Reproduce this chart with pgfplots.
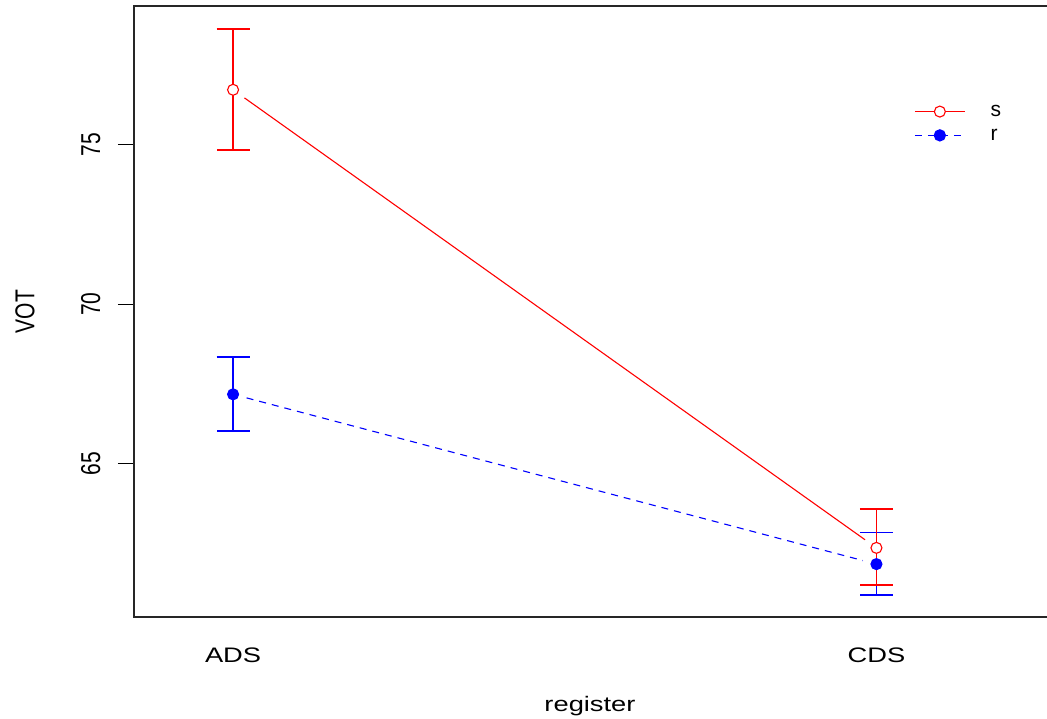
\documentclass[border=0pt]{standalone}
\usepackage{fontspec}
\setmainfont{Liberation Sans}
\usepackage{pgfplots}
\pgfplotsset{compat=1.18}
\begin{document}
\begin{tikzpicture}[font=\fontsize{21}{25}\selectfont]
\useasboundingbox (-134pt,-101pt) rectangle (913pt,617pt);
\begin{axis}[
  at={(0pt,0pt)}, anchor=south west,
  scale only axis, width=920pt, height=611pt,
  xmin=0.846, xmax=2.276, ymin=60.18, ymax=79.36,
  axis line style={line width=1.2pt, black!85},
  xtick={1,2}, xticklabels={ADS,CDS},
  ytick={65,70,75},
  tick align=outside,
  major tick length=16pt,
  x tick style={draw=none},
  y tick style={line width=1.2pt, black},
  ytick pos=left, xtick pos=bottom,
  /pgf/number format/assume math mode=true,
  yticklabel style={xshift=-13pt, rotate=90, yscale=1.3, anchor=south},
  xticklabel style={yshift=-11pt, xscale=1.3, anchor=north},
  xlabel={register}, ylabel={VOT},
  every axis x label/.style={at={(axis description cs:0.5,0)}, anchor=center, xshift=-4pt, yshift=-89pt, xscale=1.3},
  every axis y label/.style={at={(axis description cs:0,0.5)}, xshift=-109pt, rotate=90, yscale=1.3, anchor=center},
  legend reversed,
  legend style={draw=none, fill=none, at={(axis cs:0.846,79.36)}, anchor=north west, xshift=780pt, yshift=-97pt, inner xsep=0pt, inner ysep=0pt, row sep=7pt, font=\fontsize{21}{25}\selectfont,
    /tikz/every odd column/.append style={column sep=23pt}},
  legend cell align=left,
  legend image code/.code={\draw[mark repeat=2, mark phase=2, shorten <=0pt, shorten >=0pt, line width=1.3pt] plot coordinates {(0pt,0pt) (25pt,0pt) (50pt,0pt)};},
]
% r (blue)
\addplot[blue, line width=1.1pt, dash pattern=on 7pt off 6pt, shorten <=14pt, shorten >=14pt,
  mark=*, mark size=5.5pt, mark options={solid, fill=blue},
  error bars/.cd, y dir=both, y explicit,
  error bar style={draw=blue, line width=1.8pt, solid, shorten <=0pt, shorten >=0pt},
  error mark options={draw=blue, line width=1.8pt, mark size=16.5pt, rotate=90}]
  table[x=x, y=y, y error plus=ep, y error minus=em] {
x y ep em
1 67.17 1.17 1.15
2 61.84 0.99 0.97
};
\addlegendentry{r}
% s (red)
\addplot[red, line width=1.1pt, shorten <=14pt, shorten >=14pt,
  mark=*, mark size=5.5pt, mark options={solid, fill=white, line width=1.1pt},
  error bars/.cd, y dir=both, y explicit,
  error bar style={draw=red, line width=1.8pt, solid, shorten <=0pt, shorten >=0pt},
  error mark options={draw=red, line width=1.8pt, mark size=16.5pt, rotate=90}]
  table[x=x, y=y, y error plus=ep, y error minus=em] {
x y ep em
1 76.73 1.91 1.90
2 62.35 1.22 1.17
};
\addlegendentry{s}
\end{axis}
\end{tikzpicture}
\end{document}
